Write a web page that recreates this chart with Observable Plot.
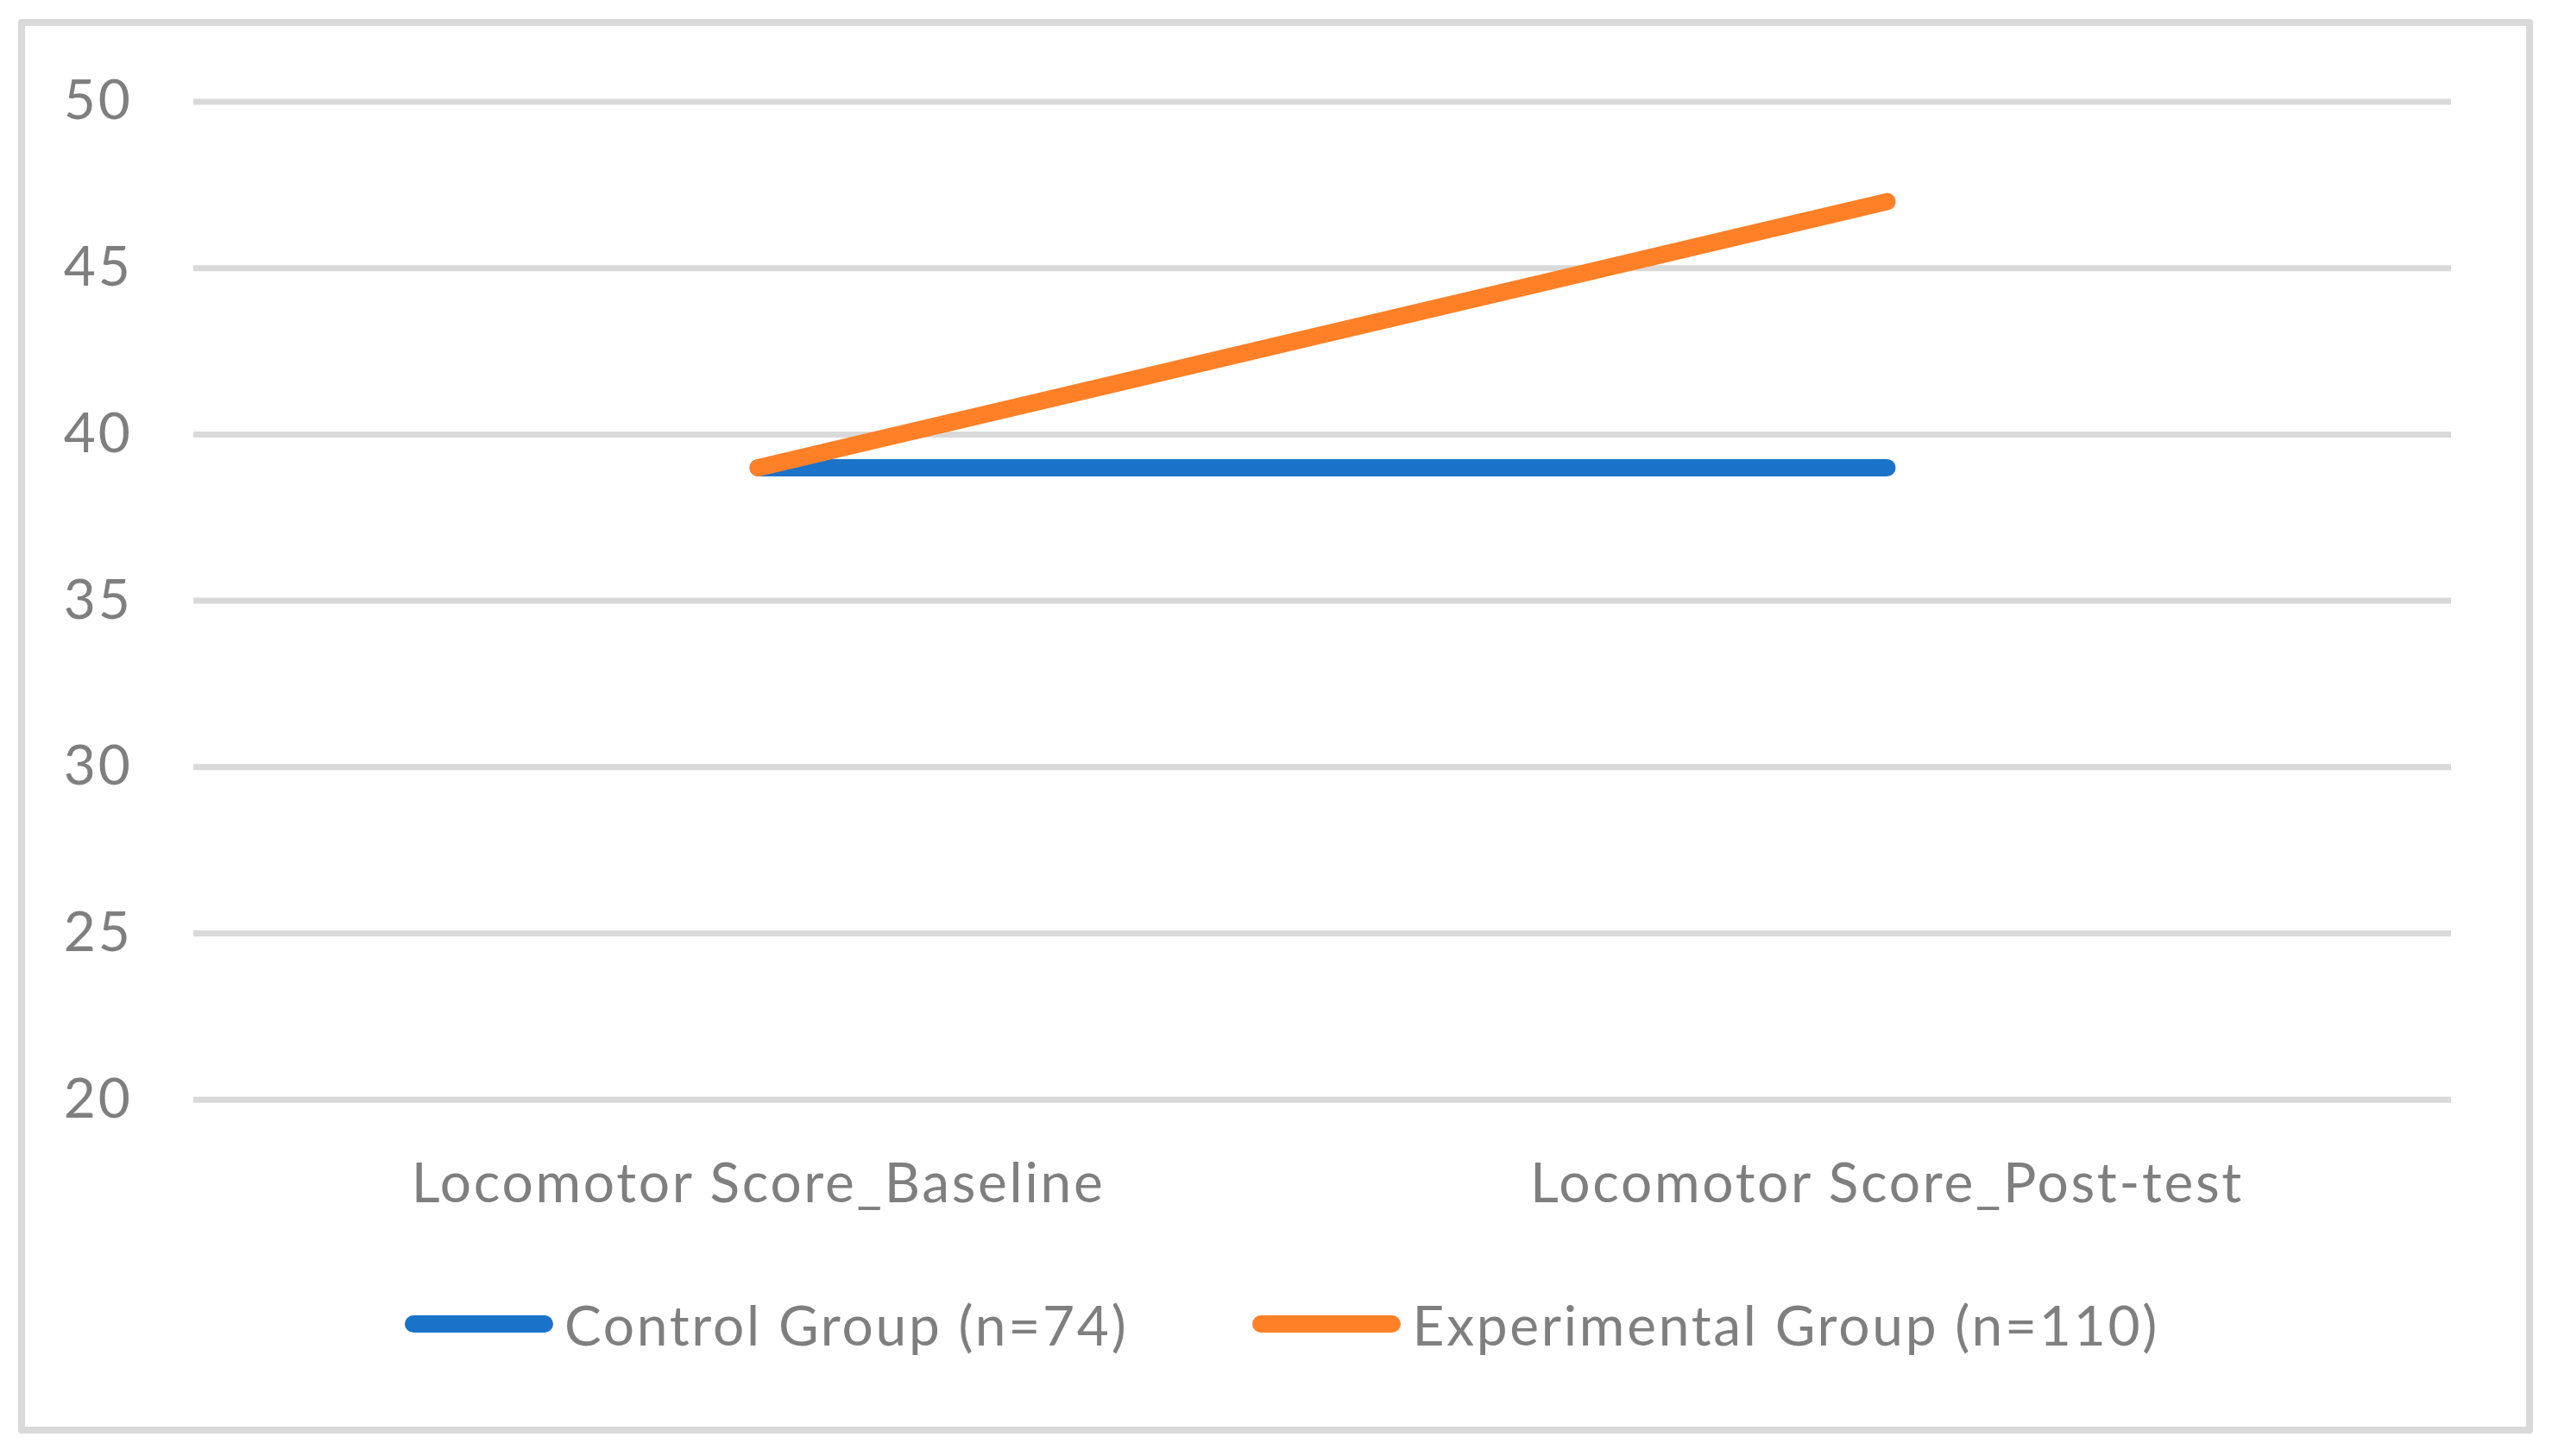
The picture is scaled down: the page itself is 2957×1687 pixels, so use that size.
<!DOCTYPE html>
<html>
<head>
<meta charset="utf-8">
<script src="https://cdn.jsdelivr.net/npm/d3@7"></script>
<script src="https://cdn.jsdelivr.net/npm/@observablehq/plot@0.6"></script>
<style>
  html, body { margin: 0; padding: 0; background: #ffffff; }
  #wrap { position: relative; width: 2957px; height: 1687px; background: #fff; overflow: hidden; }
  #frame { position: absolute; left: 21px; top: 22px; width: 2914px; height: 1639px; box-sizing: border-box;
           border: 8px solid #d9d9d9; border-radius: 4px; pointer-events: none; }
  #chart { position: absolute; left: 0; top: 0; }
  #legend { position: absolute; left: 0; top: 1496px; width: 2957px; height: 76px; display: flex;
            justify-content: center; align-items: center; padding-left: 14px; box-sizing: border-box;
            font-family: Lato, "Open Sans", sans-serif; font-size: 64px; letter-spacing: 2.7px; color: #7f7f7f; }
  .item { display: flex; align-items: center; margin: 0 72px; }
  .swatch { width: 172px; height: 20px; border-radius: 10px; margin-right: 13px; }
</style>
</head>
<body>
<div id="wrap">
  <div id="chart"></div>
  <div id="legend"></div>
  <div id="frame"></div>
</div>
<script>
const categories = ["Locomotor Score_Baseline", "Locomotor Score_Post-test"];
const seriesNames = ["Control Group (n=74)", "Experimental Group (n=110)"];
const controlValues = [39, 39];
const experimentalValues = [39, 47];
const yTicks = [20, 25, 30, 35, 40, 45, 50];
const seriesColors = ["#1a73c8", "#ff8027"];

const rows = [];
[controlValues, experimentalValues].forEach((vals, si) => {
  vals.forEach((v, ci) => rows.push({ series: seriesNames[si], category: categories[ci], value: v }));
});

const W = 2957, H = 1460;
const chart = Plot.plot({
  width: W,
  height: H,
  marginLeft: 224,
  marginRight: 117,
  marginTop: 117.5,
  marginBottom: H - 1273.7,
  style: { fontFamily: "Lato, 'Open Sans', sans-serif", fontSize: "64px", letterSpacing: "2.7px", color: "#7f7f7f", background: "transparent" },
  x: { type: "point", domain: categories, padding: 0.5, label: null },
  y: { domain: [20, 50], label: null },
  color: { domain: seriesNames, range: seriesColors },
  marks: [
    Plot.ruleY(yTicks, { stroke: "#d9d9d9", strokeWidth: 7 }),
    Plot.axisY({ ticks: yTicks, tickSize: 0, tickPadding: 71, label: null, fill: "#7f7f7f", fontSize: 64 }),
    Plot.axisX({ tickSize: 0, tickPadding: 73, label: null, fill: "#7f7f7f", fontSize: 64 }),
    Plot.line(rows, { x: "category", y: "value", z: "series", stroke: "series",
                      strokeWidth: 20, strokeLinecap: "round", strokeLinejoin: "round" })
  ]
});
document.getElementById("chart").appendChild(chart);

const legend = document.getElementById("legend");
seriesNames.forEach((name, i) => {
  const item = document.createElement("div");
  item.className = "item";
  const sw = document.createElement("div");
  sw.className = "swatch";
  sw.style.background = seriesColors[i];
  const label = document.createElement("span");
  label.textContent = name;
  item.appendChild(sw);
  item.appendChild(label);
  legend.appendChild(item);
});
</script>
</body>
</html>
